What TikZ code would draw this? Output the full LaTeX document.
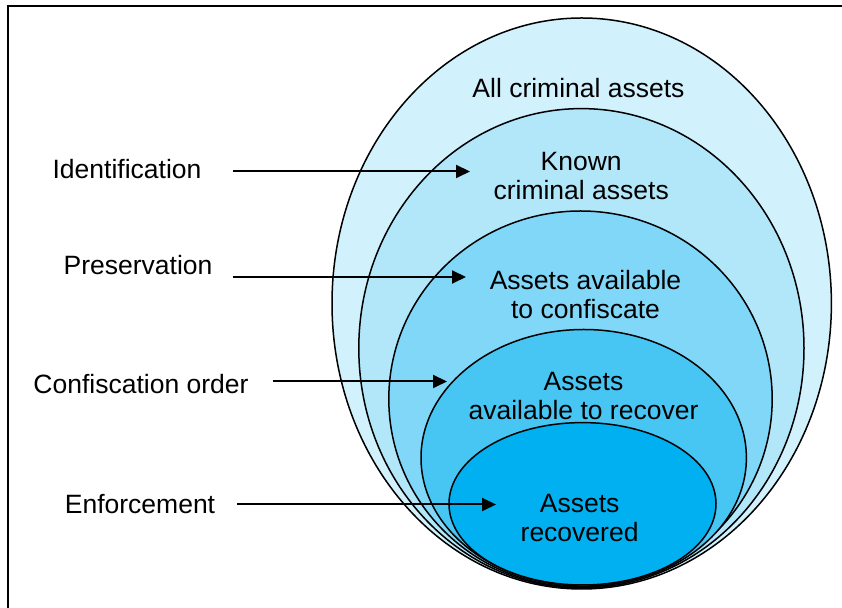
\documentclass[tikz,border=0pt]{standalone}
\usepackage{fontspec}
\setmainfont{Liberation Sans}
\usetikzlibrary{arrows.meta}
\definecolor{assetblue}{HTML}{00B0F0}
\newcommand{\lblfont}{\fontsize{13.25pt}{14.6pt}\selectfont}

\begin{document}
\begin{tikzpicture}[x = 0.5pt, y = -0.5pt]
\tikzstyle{Ring}=[draw = black, line width = 0.75pt]
\tikzstyle{Label}=[font = \lblfont, inner sep = 0pt, align = center]
\tikzstyle{Stage}=[-{Triangle[length = 7pt, width = 6.5pt]}, line width = 1pt]
\useasboundingbox (0,0) rectangle (842,608);
% frame, only top and left edges show
\draw[line width = 1pt] (8.3,608) |- (842,5.7);
% nested sets
\draw[Ring, fill = assetblue!18] (581.7,303.5) ellipse [x radius = 249.7, y radius = 285.5];
\draw[Ring, fill = assetblue!30] (581.4,348.3) ellipse [x radius = 222.6, y radius = 239.7];
\draw[Ring, fill = assetblue!50] (580.5,399.0) ellipse [x radius = 191.7, y radius = 188.0];
\draw[Ring, fill = assetblue!72] (583.7,457.8) ellipse [x radius = 162.7, y radius = 128.3];
\draw[Ring, fill = assetblue] (582.5,503.8) ellipse [x radius = 133.5, y radius = 81.2];
% set names
\node[Label] (all) at (578.5,88) {All criminal assets};
\node[Label] (known) at (581.2,176.2) {Known\\criminal assets};
\node[Label] (confiscate) at (585.5,294.5) {Assets available\\to confiscate};
\node[Label] (recover) at (583.5,396.2) {Assets\\available to recover};
\node[Label] (recovered) at (579.6,518) {Assets\\recovered};
% stages
\node[Label] (ident) at (127,169) {Identification};
\node[Label] (preserve) at (138,265) {Preservation};
\node[Label] (order) at (141,384) {Confiscation order};
\node[Label] (enforce) at (140,504) {Enforcement};
\coordinate (identFrom) at (233,171.5);
\coordinate (identTo) at (470,171.5);
\coordinate (preserveFrom) at (233,277);
\coordinate (preserveTo) at (466,277);
\coordinate (orderFrom) at (273,381.5);
\coordinate (orderTo) at (447,381.5);
\coordinate (enforceFrom) at (237,504.5);
\coordinate (enforceTo) at (496,504.5);
\draw[Stage] (identFrom) -- (identTo);
\draw[Stage] (preserveFrom) -- (preserveTo);
\draw[Stage] (orderFrom) -- (orderTo);
\draw[Stage] (enforceFrom) -- (enforceTo);
\end{tikzpicture}
\end{document}
